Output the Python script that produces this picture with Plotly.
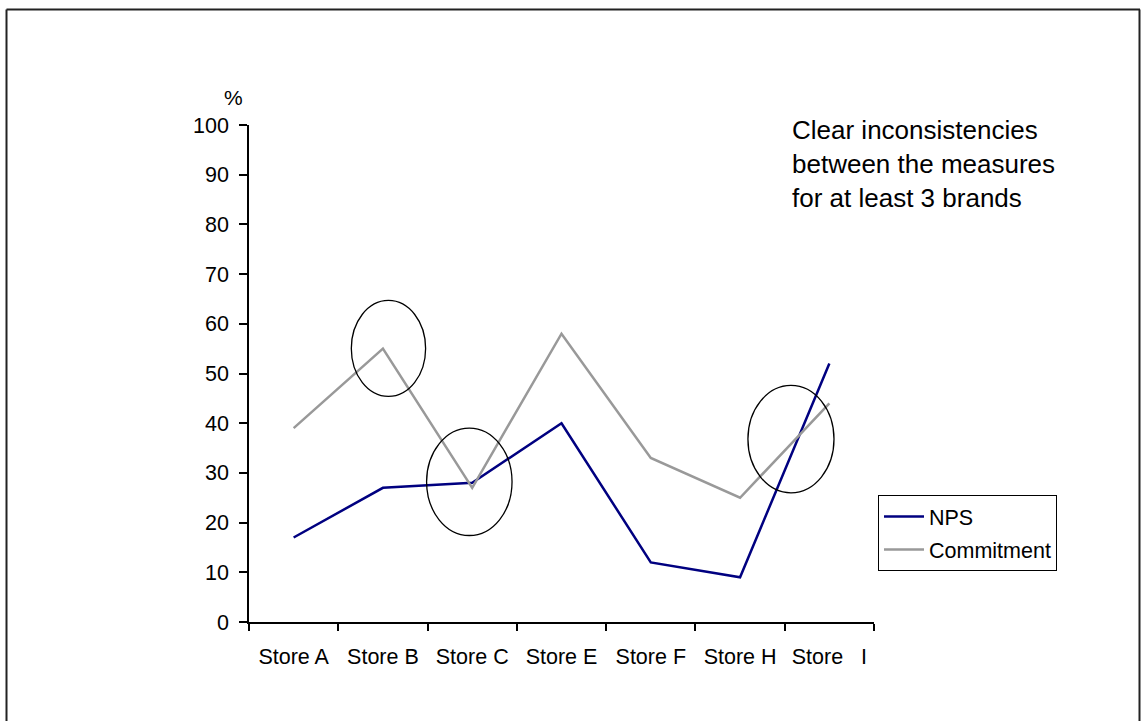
import plotly.graph_objects as go

# Store categories and the two measures (%)
stores = ["Store A", "Store B", "Store C", "Store E", "Store F", "Store H",
          "Store\u00a0\u00a0\u00a0I"]
nps = [17, 27, 28, 40, 12, 9, 52]
commitment = [39, 55, 27, 58, 33, 25, 44]

y_ticks = [0, 10, 20, 30, 40, 50, 60, 70, 80, 90, 100]

# Highlighted inconsistencies: (x0, x1, y0, y1) in category-index / value units
highlights = [
    (0.646, 1.478, 45.4, 64.7),
    (1.489, 2.446, 17.4, 39.0),
    (5.088, 6.052, 26.0, 47.6),
]

W, H = 1141, 721
ML, MR, MT, MB = 249, 267, 125, 99
PW, PH = W - ML - MR, H - MT - MB


def px_x(px):
    return (px - ML) / PW


def px_y(py):
    return (H - MB - py) / PH


FONT = "Liberation Sans, Arial, sans-serif"
FS = 21.5

fig = go.Figure()
fig.add_trace(go.Scatter(
    x=stores, y=nps, name="NPS", mode="lines",
    line=dict(color="#000080", width=2.5), legendgroup="a",
))
fig.add_trace(go.Scatter(
    x=stores, y=commitment, name="Commitment", mode="lines",
    line=dict(color="#999999", width=2.5), legendgroup="b",
))

shapes = []
for x0, x1, y0, y1 in highlights:
    shapes.append(dict(type="circle", xref="x", yref="y", x0=x0, x1=x1, y0=y0, y1=y1,
                       line=dict(color="black", width=1.3)))

# Frame around the slide
frame = dict(color="#222222", width=2)
shapes.append(dict(type="line", xref="paper", yref="paper",
                   x0=px_x(6.5), x1=px_x(6.5), y0=px_y(9.5), y1=px_y(721), line=frame))
shapes.append(dict(type="line", xref="paper", yref="paper",
                   x0=px_x(6.5), x1=px_x(1140), y0=px_y(9.5), y1=px_y(9.5), line=frame))
shapes.append(dict(type="line", xref="paper", yref="paper",
                   x0=px_x(1139.5), x1=px_x(1139.5), y0=px_y(9.5), y1=px_y(721), line=frame))

annotations = [
    dict(xref="paper", yref="paper", x=px_x(233), y=px_y(97), text="%",
         showarrow=False, font=dict(size=21, color="black", family=FONT),
         xanchor="center", yanchor="middle"),
    dict(xref="paper", yref="paper", x=px_x(790), y=px_y(113),
         text="Clear inconsistencies<br>between the measures<br>for at least 3 brands",
         showarrow=False, align="left", font=dict(size=26, color="black", family=FONT),
         xanchor="left", yanchor="top"),
]

fig.update_layout(
    width=W, height=H,
    margin=dict(l=ML, r=MR, t=MT, b=MB),
    paper_bgcolor="white", plot_bgcolor="white",
    font=dict(family=FONT, size=FS, color="black"),
    showlegend=True,
    legend=dict(x=px_x(878), y=px_y(495), xanchor="left", yanchor="top",
                bordercolor="black", borderwidth=1, bgcolor="white",
                font=dict(size=FS, family=FONT), tracegroupgap=2, itemwidth=40),
    shapes=shapes,
    annotations=annotations,
    xaxis=dict(
        type="category", range=[-0.5, 6.5], showgrid=False, zeroline=False,
        showline=True, linecolor="black", linewidth=1.5,
        ticks="outside", tickson="boundaries", ticklen=7, tickcolor="black", tickwidth=1.5,
        tickfont=dict(size=FS, family=FONT), ticklabelstandoff=14, tickangle=0,
    ),
    yaxis=dict(
        range=[0, 100], tickvals=y_ticks, showgrid=False, zeroline=False,
        showline=True, linecolor="black", linewidth=1.5,
        ticks="outside", ticklen=8, tickcolor="black", tickwidth=1.5,
        tickfont=dict(size=FS, family=FONT), ticklabelstandoff=6,
    ),
)

fig.write_html("out.html")
